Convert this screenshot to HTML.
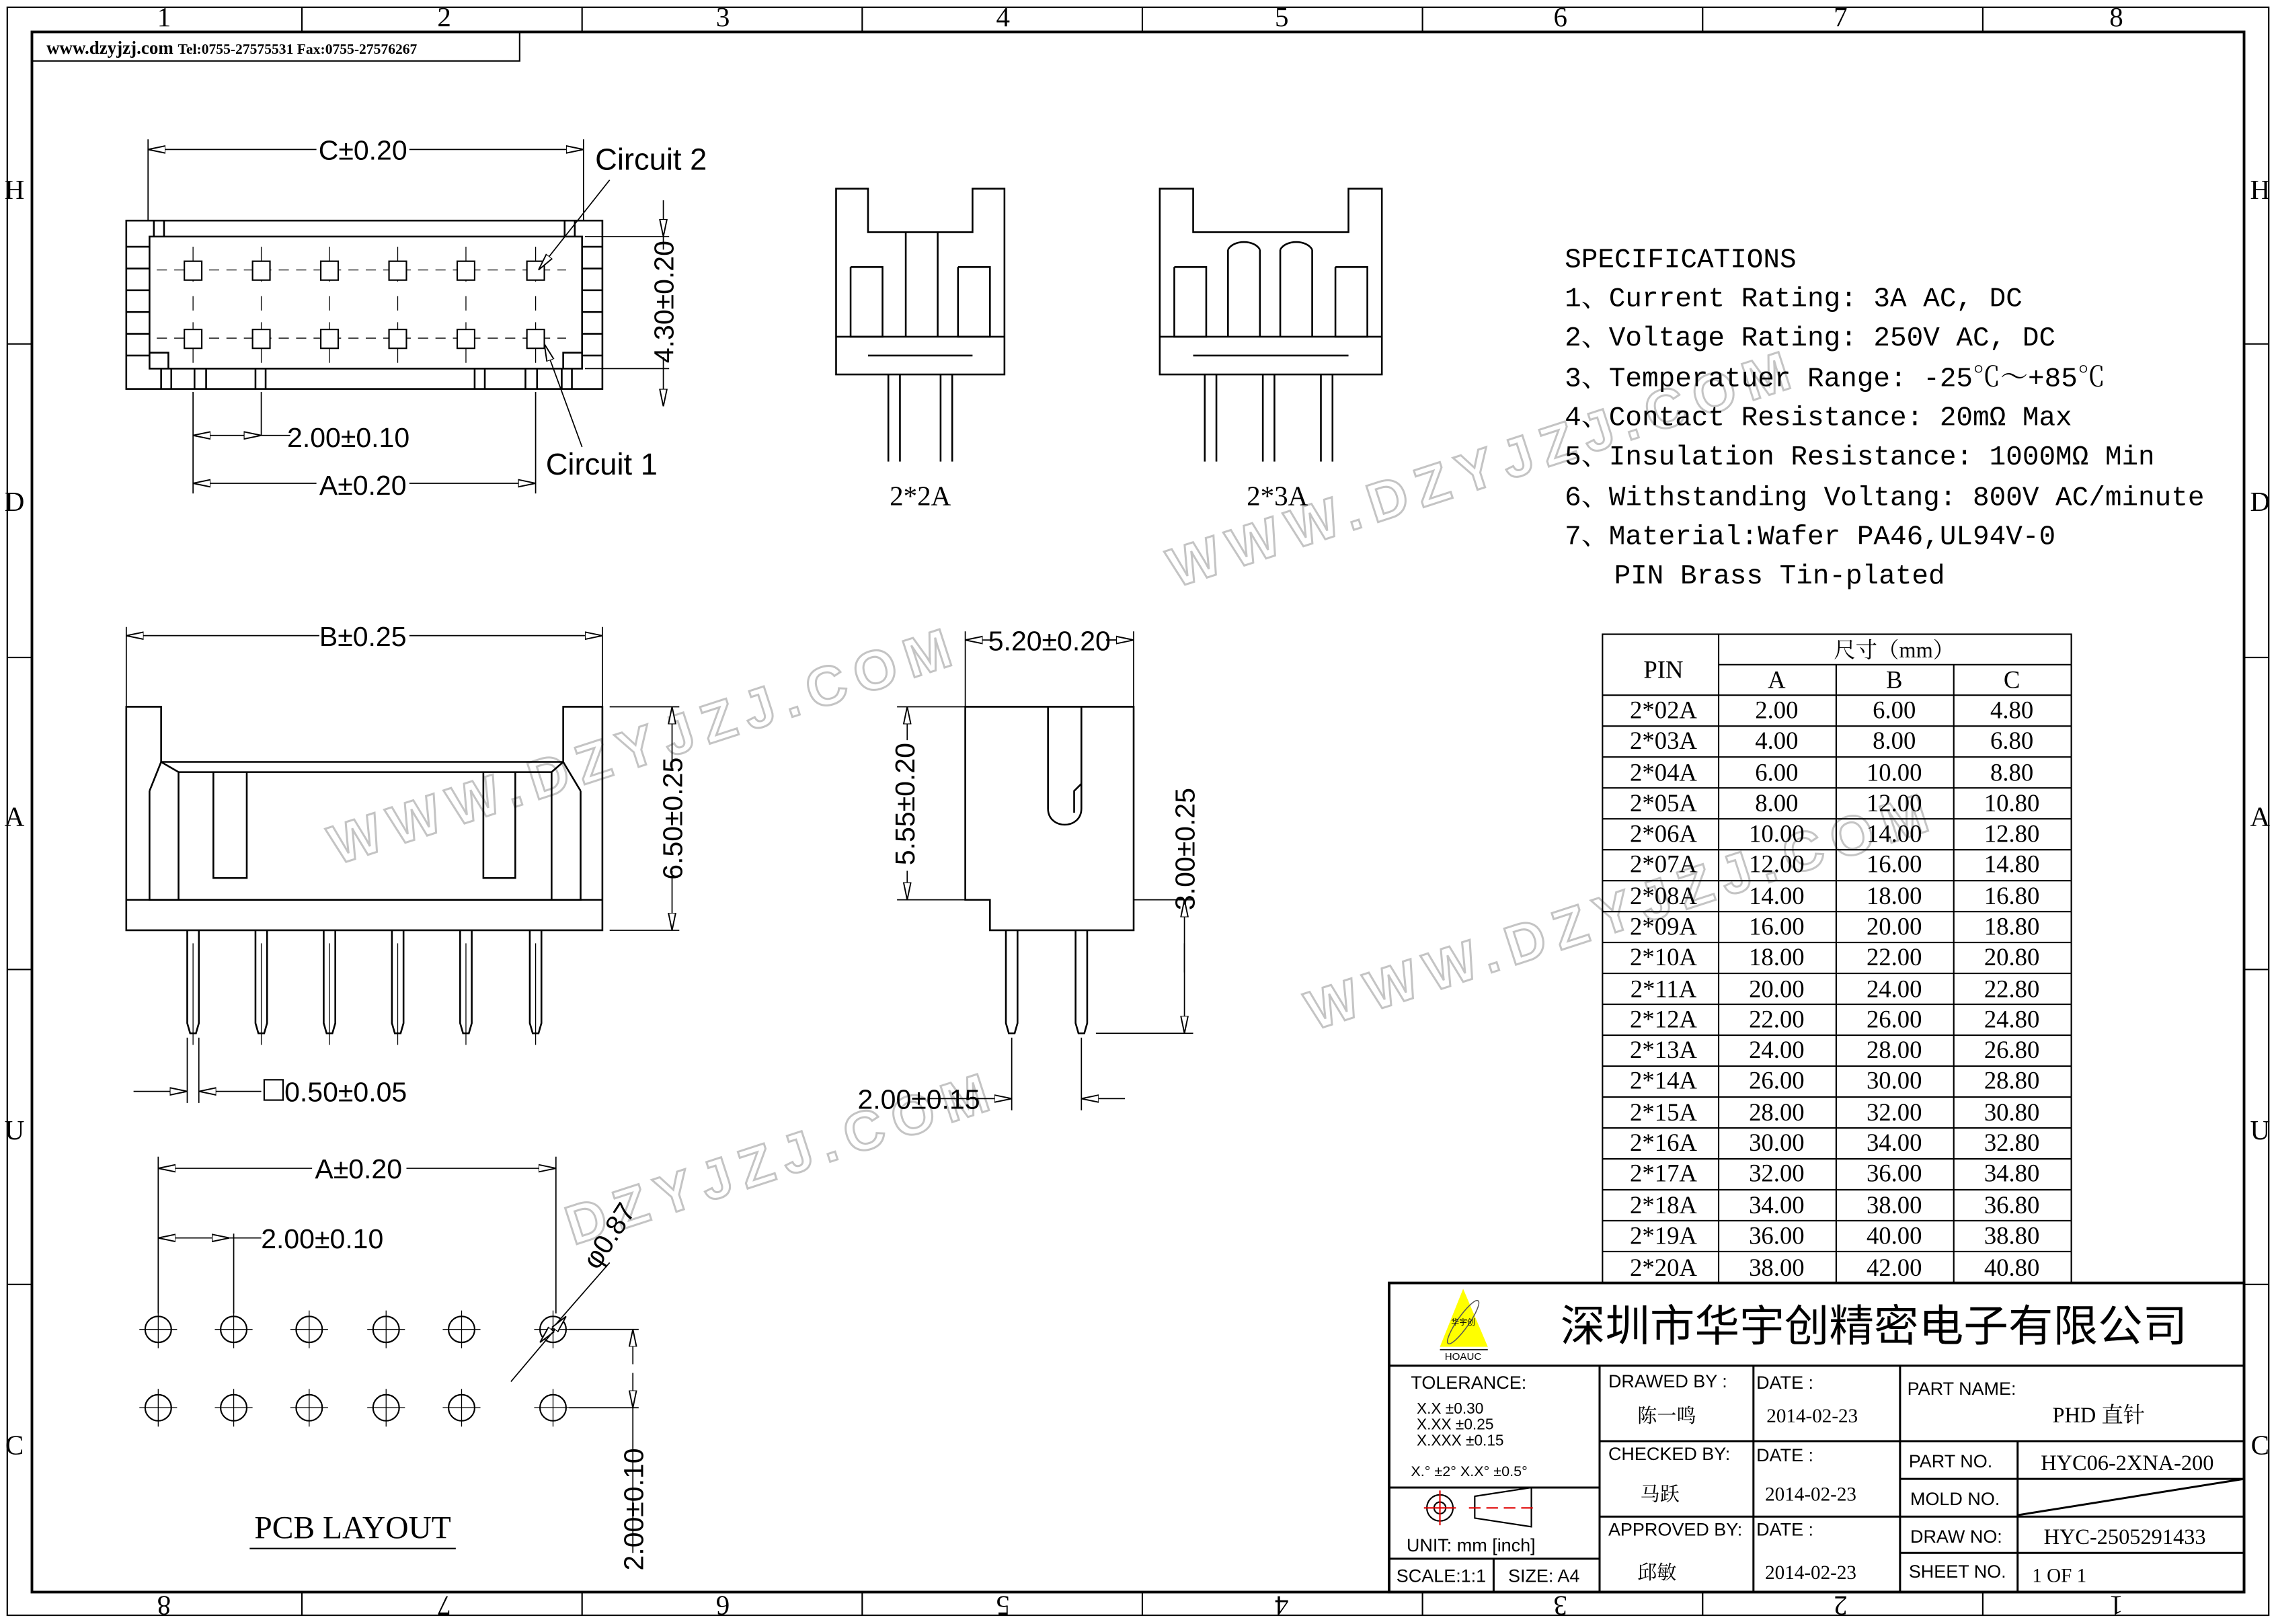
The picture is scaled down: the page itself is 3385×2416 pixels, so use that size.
<!DOCTYPE html>
<html><head><meta charset="utf-8"><style>
html,body{margin:0;padding:0;background:#fff}
svg{display:block;font-family:"Liberation Sans","Noto Sans CJK SC",sans-serif}
text{fill:#000}
.m,.m text{font-family:"Liberation Mono","Noto Serif CJK SC",monospace}
.s,.s text{font-family:"Liberation Serif","Noto Serif CJK SC",serif}
.n,.n text{font-family:"Liberation Sans Narrow","Liberation Sans","Noto Sans CJK SC",sans-serif}
.wm{font-family:"Liberation Sans",sans-serif;font-weight:bold;fill:#fff;stroke:#c4c4c4;stroke-width:1.4;letter-spacing:7px;font-size:38px}
</style></head><body>
<svg width="3385" height="2416" viewBox="0 0 1568 1119" preserveAspectRatio="none" xmlns="http://www.w3.org/2000/svg">
<defs>
<marker id="a" viewBox="0 0 12 6" refX="12" refY="3" markerWidth="12" markerHeight="6" markerUnits="userSpaceOnUse" orient="auto-start-reverse">
<path d="M0,0.5 L12,3 L0,5.5 Z" fill="#fff" stroke="#000" stroke-width="0.9"/></marker>
</defs>
<rect width="1568" height="1119" fill="#fff"/>
<!-- watermarks -->
<g>
<text class="wm" transform="translate(232,596) rotate(-18)">WWW.DZYJZJ.COM</text>
<text class="wm" transform="translate(810,405) rotate(-18)">WWW.DZYJZJ.COM</text>
<text class="wm" transform="translate(905,710) rotate(-18)">WWW.DZYJZJ.COM</text>
<text class="wm" transform="translate(395,858) rotate(-18)">DZYJZJ.COM</text>
</g>
<!-- frame -->
<g fill="none" stroke="#000">
<rect x="5" y="5" width="1558" height="1108" stroke-width="1"/>
<rect x="22" y="22" width="1524" height="1075" stroke-width="1.8"/>
<g stroke-width="1">
<path d="M208,5V22M401,5V22M594,5V22M787,5V22M980,5V22M1173,5V22M1366,5V22"/>
<path d="M208,1097V1113M401,1097V1113M594,1097V1113M787,1097V1113M980,1097V1113M1173,1097V1113M1366,1097V1113"/>
<path d="M5,237H22M5,453H22M5,668H22M5,885H22M1546,237H1563M1546,453H1563M1546,668H1563M1546,885H1563"/>
</g>
</g>
<g font-size="19" class="s" text-anchor="middle">
<text x="113" y="18">1</text><text x="306" y="18">2</text><text x="498" y="18">3</text><text x="691" y="18">4</text><text x="883" y="18">5</text><text x="1075" y="18">6</text><text x="1268" y="18">7</text><text x="1458" y="18">8</text>
<text x="10" y="137">H</text><text x="10" y="352">D</text><text x="10" y="569">A</text><text x="10" y="785">U</text><text x="10" y="1002">C</text>
<text x="1557" y="137">H</text><text x="1557" y="352">D</text><text x="1557" y="569">A</text><text x="1557" y="785">U</text><text x="1557" y="1002">C</text>
<g transform="rotate(180 0 0)">
<text x="-113" y="-1100">8</text><text x="-306" y="-1100">7</text><text x="-498" y="-1100">6</text><text x="-691" y="-1100">5</text><text x="-883" y="-1100">4</text><text x="-1075" y="-1100">3</text><text x="-1268" y="-1100">2</text><text x="-1458" y="-1100">1</text>
</g>
</g>
<rect x="22" y="22" width="336" height="20" fill="none" stroke="#000" stroke-width="1"/>
<text x="32" y="37" class="s" font-size="12.5" font-weight="bold">www.dzyjzj.com <tspan font-size="10">Tel:0755-27575531  Fax:0755-27576267</tspan></text>

<!-- top view -->
<g fill="none" stroke="#000" stroke-width="1.2">
<rect x="87" y="152" width="328" height="116"/>
<rect x="103" y="163" width="298" height="91"/>
<path d="M106,152V163M113,152V163M389,152V163M396,152V163"/>
<path d="M87,170H103M87,185H103M87,200H103M87,215H103M87,230H103M87,245H103M401,170H415M401,185H415M401,200H415M401,215H415M401,230H415M401,245H415"/>
<path d="M103,243H116V254M388,254V243H401"/>
<path d="M111,254V268M118,254V268M134,254V268M142,254V268M176,254V268M183,254V268M327,254V268M334,254V268M362,254V268M370,254V268M387,254V268M394,254V268"/>
</g>
<g stroke="#000" stroke-width="0.6" fill="none">
<path d="M108,186H390M108,233H390" stroke-dasharray="7,5"/>
<path d="M133,170V194M133,222V250M180,170V194M180,222V250M227,170V194M227,222V250M274,170V194M274,222V250M321,170V194M321,222V250M369,170V194M369,222V250"/>
<path d="M133,204V214M180,204V214M227,204V214M274,204V214M321,204V214M369,204V214"/>
</g>
<g fill="#fff" stroke="#000" stroke-width="1">
<rect x="127" y="180" width="12" height="13"/><rect x="174" y="180" width="12" height="13"/><rect x="221" y="180" width="12" height="13"/><rect x="268" y="180" width="12" height="13"/><rect x="315" y="180" width="12" height="13"/><rect x="363" y="180" width="12" height="13"/>
<rect x="127" y="227" width="12" height="13"/><rect x="174" y="227" width="12" height="13"/><rect x="221" y="227" width="12" height="13"/><rect x="268" y="227" width="12" height="13"/><rect x="315" y="227" width="12" height="13"/><rect x="363" y="227" width="12" height="13"/>
</g>
<g stroke="#000" stroke-width="0.8" fill="none">
<path d="M102,96V152M402,96V152"/>
<path d="M102,103H218M282,103H402" marker-start="url(#a)" marker-end="url(#a)"/>
<path d="M403,163H461M403,254H461"/>
<path d="M457,138V163" marker-end="url(#a)"/><path d="M457,254V280" marker-end="url(#a)"/>
<path d="M457,163V172M457,246V254"/>
<path d="M133,270V340M180,270V300M369,270V340"/>
<path d="M133,300H180" marker-start="url(#a)" marker-end="url(#a)"/><path d="M180,300H200"/>
<path d="M133,333H218M282,333H369" marker-start="url(#a)" marker-end="url(#a)"/>
<path d="M420,124L371,186" marker-end="url(#a)"/>
<path d="M401,308L375,237" marker-end="url(#a)"/>
</g>
<text x="250" y="110" text-anchor="middle" class="n" font-size="19">C±0.20</text>
<text x="240" y="308" text-anchor="middle" class="n" font-size="19">2.00±0.10</text>
<text x="250" y="341" text-anchor="middle" class="n" font-size="19">A±0.20</text>
<text x="464" y="208" text-anchor="middle" class="n" font-size="19" transform="rotate(-90 464 208)">4.30±0.20</text>
<text x="410" y="117" font-size="21">Circuit 2</text>
<text x="376" y="327" font-size="21">Circuit 1</text>

<!-- 2*2A -->
<g fill="none" stroke="#000" stroke-width="1.2">
<path d="M576,130H598V160H670V130H692V258H576Z"/>
<path d="M586,184V232H608V184H586M624,160V232M646,160V232M660,184V232H682V184H660"/>
<path d="M576,232H692M598,245H670"/>
<path d="M612,258V318M620,258V318M648,258V318M656,258V318"/>
</g>
<text x="634" y="348" text-anchor="middle" class="s" font-size="19">2*2A</text>
<!-- 2*3A -->
<g fill="none" stroke="#000" stroke-width="1.2">
<path d="M799,130H822V160H929V130H952V258H799Z"/>
<path d="M809,184V232H831V184H809M846,172V232M868,172V232M882,172V232M904,172V232M920,184V232H942V184H920M846,172C850,165 864,165 868,172M882,172C886,165 900,165 904,172"/>
<path d="M799,232H952M822,245H929"/>
<path d="M830,258V318M838,258V318M870,258V318M878,258V318M910,258V318M918,258V318"/>
</g>
<text x="880" y="348" text-anchor="middle" class="s" font-size="19">2*3A</text>

<!-- specs -->
<g class="m" font-size="19">
<text x="1078" y="184">SPECIFICATIONS</text>
<text x="1078" y="211">1、Current Rating: 3A AC, DC</text>
<text x="1078" y="238">2、Voltage Rating: 250V AC, DC</text>
<text x="1078" y="266">3、Temperatuer Range: -25℃～+85℃</text>
<text x="1078" y="293">4、Contact Resistance: 20mΩ Max</text>
<text x="1078" y="320">5、Insulation Resistance: 1000MΩ Min</text>
<text x="1078" y="348">6、Withstanding Voltang: 800V AC/minute</text>
<text x="1078" y="375">7、Material:Wafer PA46,UL94V-0</text>
<text x="1112" y="402">PIN Brass Tin-plated</text>
</g>

<!-- table -->
<g fill="none" stroke="#000" stroke-width="1">
<rect x="1104" y="437" width="323" height="447"/>
<path d="M1184,437V884M1184,458H1427M1104,479H1427M1265,458V884M1346,458V884"/>
<path d="M1104,500.3H1427M1104,521.6H1427M1104,542.9H1427M1104,564.2H1427M1104,585.5H1427M1104,606.8H1427M1104,628.1H1427M1104,649.4H1427M1104,670.7H1427M1104,692H1427M1104,713.3H1427M1104,734.6H1427M1104,755.9H1427M1104,777.2H1427M1104,798.5H1427M1104,819.8H1427M1104,841.1H1427M1104,862.4H1427"/>
</g>
<g class="s" font-size="17" text-anchor="middle">
<text x="1146" y="467">PIN</text>
<text x="1305" y="453" font-size="15">尺寸（mm）</text>
<text x="1224" y="474">A</text><text x="1305" y="474">B</text><text x="1386" y="474">C</text>
<text x="1146" y="495">2*02A</text><text x="1224" y="495">2.00</text><text x="1305" y="495">6.00</text><text x="1386" y="495">4.80</text>
<text x="1146" y="516">2*03A</text><text x="1224" y="516">4.00</text><text x="1305" y="516">8.00</text><text x="1386" y="516">6.80</text>
<text x="1146" y="538">2*04A</text><text x="1224" y="538">6.00</text><text x="1305" y="538">10.00</text><text x="1386" y="538">8.80</text>
<text x="1146" y="559">2*05A</text><text x="1224" y="559">8.00</text><text x="1305" y="559">12.00</text><text x="1386" y="559">10.80</text>
<text x="1146" y="580">2*06A</text><text x="1224" y="580">10.00</text><text x="1305" y="580">14.00</text><text x="1386" y="580">12.80</text>
<text x="1146" y="601">2*07A</text><text x="1224" y="601">12.00</text><text x="1305" y="601">16.00</text><text x="1386" y="601">14.80</text>
<text x="1146" y="623">2*08A</text><text x="1224" y="623">14.00</text><text x="1305" y="623">18.00</text><text x="1386" y="623">16.80</text>
<text x="1146" y="644">2*09A</text><text x="1224" y="644">16.00</text><text x="1305" y="644">20.00</text><text x="1386" y="644">18.80</text>
<text x="1146" y="665">2*10A</text><text x="1224" y="665">18.00</text><text x="1305" y="665">22.00</text><text x="1386" y="665">20.80</text>
<text x="1146" y="687">2*11A</text><text x="1224" y="687">20.00</text><text x="1305" y="687">24.00</text><text x="1386" y="687">22.80</text>
<text x="1146" y="708">2*12A</text><text x="1224" y="708">22.00</text><text x="1305" y="708">26.00</text><text x="1386" y="708">24.80</text>
<text x="1146" y="729">2*13A</text><text x="1224" y="729">24.00</text><text x="1305" y="729">28.00</text><text x="1386" y="729">26.80</text>
<text x="1146" y="750">2*14A</text><text x="1224" y="750">26.00</text><text x="1305" y="750">30.00</text><text x="1386" y="750">28.80</text>
<text x="1146" y="772">2*15A</text><text x="1224" y="772">28.00</text><text x="1305" y="772">32.00</text><text x="1386" y="772">30.80</text>
<text x="1146" y="793">2*16A</text><text x="1224" y="793">30.00</text><text x="1305" y="793">34.00</text><text x="1386" y="793">32.80</text>
<text x="1146" y="814">2*17A</text><text x="1224" y="814">32.00</text><text x="1305" y="814">36.00</text><text x="1386" y="814">34.80</text>
<text x="1146" y="836">2*18A</text><text x="1224" y="836">34.00</text><text x="1305" y="836">38.00</text><text x="1386" y="836">36.80</text>
<text x="1146" y="857">2*19A</text><text x="1224" y="857">36.00</text><text x="1305" y="857">40.00</text><text x="1386" y="857">38.80</text>
<text x="1146" y="879">2*20A</text><text x="1224" y="879">38.00</text><text x="1305" y="879">42.00</text><text x="1386" y="879">40.80</text>
</g>

<!-- front view -->
<g fill="none" stroke="#000" stroke-width="1.2">
<path d="M87,487H111V525H388V487H415V641H87Z"/>
<path d="M111,525L123,532H380L388,525M103,545V620H400V545M103,545L111,525M400,545L388,525"/>
<path d="M147,532V605H170V532M333,532V605H355V532M123,532V620M380,532V620"/>
<path d="M87,620H415"/>
<path d="M129,641V705L131,712H135L137,705V641M176,641V705L178,712H182L184,705V641M223,641V705L225,712H229L231,705V641M270,641V705L272,712H276L278,705V641M317,641V705L319,712H323L325,705V641M365,641V705L367,712H371L373,705V641"/>
</g>
<g stroke="#000" stroke-width="0.6" fill="none"><path d="M133,650V720M180,650V720M227,650V720M274,650V720M321,650V720M369,650V720"/></g>
<g stroke="#000" stroke-width="0.8" fill="none">
<path d="M87,432V487M415,432V487"/>
<path d="M87,438H220M282,438H415" marker-start="url(#a)" marker-end="url(#a)"/>
<path d="M420,487H468M420,641H468"/>
<path d="M463,487V530M463,600V641" marker-start="url(#a)" marker-end="url(#a)"/>
<path d="M129,715V760M137,715V760"/>
<path d="M92,752H129" marker-end="url(#a)"/><path d="M180,752H137" marker-end="url(#a)"/>
</g>
<text x="250" y="445" text-anchor="middle" class="n" font-size="19">B±0.25</text>
<text x="470" y="564" text-anchor="middle" class="n" font-size="19" transform="rotate(-90 470 564)">6.50±0.25</text>
<rect x="182" y="744" width="13" height="14" fill="none" stroke="#000" stroke-width="1"/>
<text x="196" y="759" class="n" font-size="19">0.50±0.05</text>

<!-- side view -->
<g fill="none" stroke="#000" stroke-width="1.2">
<path d="M665,487H781V641H682V620H665Z"/>
<path d="M722,487V557C722,572 745,572 745,557V487"/>
<path d="M745,540L740,545V560"/>
<path d="M693,641V705L695,712H699L701,705V641M741,641V705L743,712H747L749,705V641"/>
</g>
<g stroke="#000" stroke-width="0.8" fill="none">
<path d="M665,435V487M781,435V487"/>
<path d="M665,441H682M762,441H781" marker-start="url(#a)"/>
<path d="M781,441H762" marker-start="url(#a)"/>
<path d="M618,487H665M618,620H665"/>
<path d="M625,487V510M625,600V620" marker-start="url(#a)" marker-end="url(#a)"/>
<path d="M781,620H822M755,712H822"/>
<path d="M816,620V670" marker-start="url(#a)"/><path d="M816,712V650" marker-start="url(#a)"/>
<path d="M697,715V765M745,715V765"/>
<path d="M640,757H697" marker-end="url(#a)"/><path d="M775,757H745" marker-end="url(#a)"/>
</g>
<text x="723" y="448" text-anchor="middle" class="n" font-size="19">5.20±0.20</text>
<text x="630" y="554" text-anchor="middle" class="n" font-size="19" transform="rotate(-90 630 554)">5.55±0.20</text>
<text x="823" y="585" text-anchor="middle" class="n" font-size="19" transform="rotate(-90 823 585)">3.00±0.25</text>
<text x="633" y="764" text-anchor="middle" class="n" font-size="19">2.00±0.15</text>

<!-- PCB layout -->
<g fill="none" stroke="#000" stroke-width="1">
<circle cx="109" cy="916" r="9"/><circle cx="161" cy="916" r="9"/><circle cx="213" cy="916" r="9"/><circle cx="266" cy="916" r="9"/><circle cx="318" cy="916" r="9"/><circle cx="381" cy="916" r="9"/>
<circle cx="109" cy="970" r="9"/><circle cx="161" cy="970" r="9"/><circle cx="213" cy="970" r="9"/><circle cx="266" cy="970" r="9"/><circle cx="318" cy="970" r="9"/><circle cx="381" cy="970" r="9"/>
</g>
<g stroke="#000" stroke-width="0.6" fill="none">
<path d="M96,916H122M148,916H174M200,916H226M253,916H279M305,916H331M368,916H394M96,970H122M148,970H174M200,970H226M253,970H279M305,970H331M368,970H394"/>
<path d="M109,903V929M161,903V929M213,903V929M266,903V929M318,903V929M381,903V929M109,957V983M161,957V983M213,957V983M266,957V983M318,957V983M381,957V983"/>
</g>
<g stroke="#000" stroke-width="0.8" fill="none">
<path d="M109,797V905M383,797V905M161,850V905"/>
<path d="M109,805H215M280,805H383" marker-start="url(#a)" marker-end="url(#a)"/>
<path d="M109,853H158" marker-start="url(#a)" marker-end="url(#a)"/><path d="M158,853H180"/>
<path d="M392,916H440M392,970H440"/>
<path d="M436,916V940" marker-start="url(#a)"/><path d="M436,970V946" marker-start="url(#a)"/>
<path d="M436,970V1070"/>
<path d="M420,870L372,925" marker-end="url(#a)"/><path d="M352,952L390,907" marker-end="url(#a)"/>
</g>
<text x="247" y="812" text-anchor="middle" class="n" font-size="19">A±0.20</text>
<text x="222" y="860" text-anchor="middle" class="n" font-size="19">2.00±0.10</text>
<text x="443" y="1040" text-anchor="middle" class="n" font-size="19" transform="rotate(-90 443 1040)">2.00±0.10</text>
<text x="425" y="855" text-anchor="middle" class="n" font-size="19" transform="rotate(-57 425 855)">φ0.87</text>
<text x="243" y="1060" text-anchor="middle" class="s" font-size="22">PCB LAYOUT</text>
<path d="M172,1067H314" stroke="#000" stroke-width="1"/>

<!-- title block -->
<g fill="none" stroke="#000">
<rect x="957" y="884" width="589" height="213" stroke-width="1.8"/>
<g stroke-width="1.4">
<path d="M957,941H1546M1102,941V1097M1208,941V1097M1309,941V1097M1390,993V1097"/>
<path d="M1102,993H1546M1102,1045H1546M1309,1019H1546M1309,1070H1546"/>
<path d="M957,1025H1102M957,1074H1102M1029,1074V1097"/>
<path d="M1390,1044L1546,1019"/>
</g>
</g>
<polygon points="1008,888 992,928 1025,928" fill="#ffff00"/>
<ellipse cx="1008" cy="911" rx="18" ry="4" fill="none" stroke="#555" stroke-width="0.7" transform="rotate(-55 1008 911)"/>
<text x="1008" y="913" text-anchor="middle" font-size="5.5">华宇创</text>
<path d="M992,930H1025" stroke="#000" stroke-width="0.8"/>
<text x="1008" y="937" text-anchor="middle" font-size="7">HOAUC</text>
<text x="1075" y="924" font-size="30" style="font-family:'Noto Sans CJK SC',sans-serif" textLength="432" lengthAdjust="spacingAndGlyphs">深圳市华宇创精密电子有限公司</text>
<g class="n" font-size="12.5">
<text x="972" y="957">TOLERANCE:</text>
<text x="976" y="974" font-size="10.5">X.X    ±0.30</text>
<text x="976" y="985" font-size="10.5">X.XX   ±0.25</text>
<text x="976" y="996" font-size="10.5">X.XXX ±0.15</text>
<text x="972" y="1017" font-size="10">X.° ±2°     X.X° ±0.5°</text>
<text x="969" y="1069">UNIT:  mm  [inch]</text>
<text x="962" y="1090">SCALE:1:1</text>
<text x="1039" y="1090">SIZE:  A4</text>
<text x="1108" y="956">DRAWED  BY :</text>
<text x="1210" y="957">DATE  :</text>
<text x="1108" y="1006">CHECKED  BY:</text>
<text x="1210" y="1007">DATE  :</text>
<text x="1108" y="1058">APPROVED  BY:</text>
<text x="1210" y="1058">DATE  :</text>
<text x="1314" y="961">PART  NAME:</text>
<text x="1315" y="1011">PART  NO.</text>
<text x="1316" y="1037">MOLD  NO.</text>
<text x="1316" y="1063">DRAW  NO:</text>
<text x="1315" y="1087">SHEET  NO.</text>
</g>
<g class="s" font-size="13.5">
<text x="1128" y="980">陈一鸣</text>
<text x="1217" y="980">2014-02-23</text>
<text x="1130" y="1034">马跃</text>
<text x="1216" y="1034">2014-02-23</text>
<text x="1128" y="1088">邱敏</text>
<text x="1216" y="1088">2014-02-23</text>
<text x="1414" y="980" font-size="15">PHD 直针</text>
<text x="1406" y="1013" font-size="15">HYC06-2XNA-200</text>
<text x="1408" y="1064" font-size="15">HYC-2505291433</text>
<text x="1400" y="1090">1 OF 1</text>
</g>
<g fill="none" stroke-width="1">
<circle cx="992" cy="1039" r="9" stroke="#000"/><circle cx="992" cy="1039" r="4" stroke="#000"/>
<path d="M981,1039H1003M992,1027V1051" stroke="#e00000"/>
<path d="M1016,1031L1055,1025V1052L1016,1046Z" stroke="#000"/>
<path d="M1012,1039H1058" stroke="#e00000" stroke-dasharray="8,4"/>
</g>
</svg>
</body></html>
